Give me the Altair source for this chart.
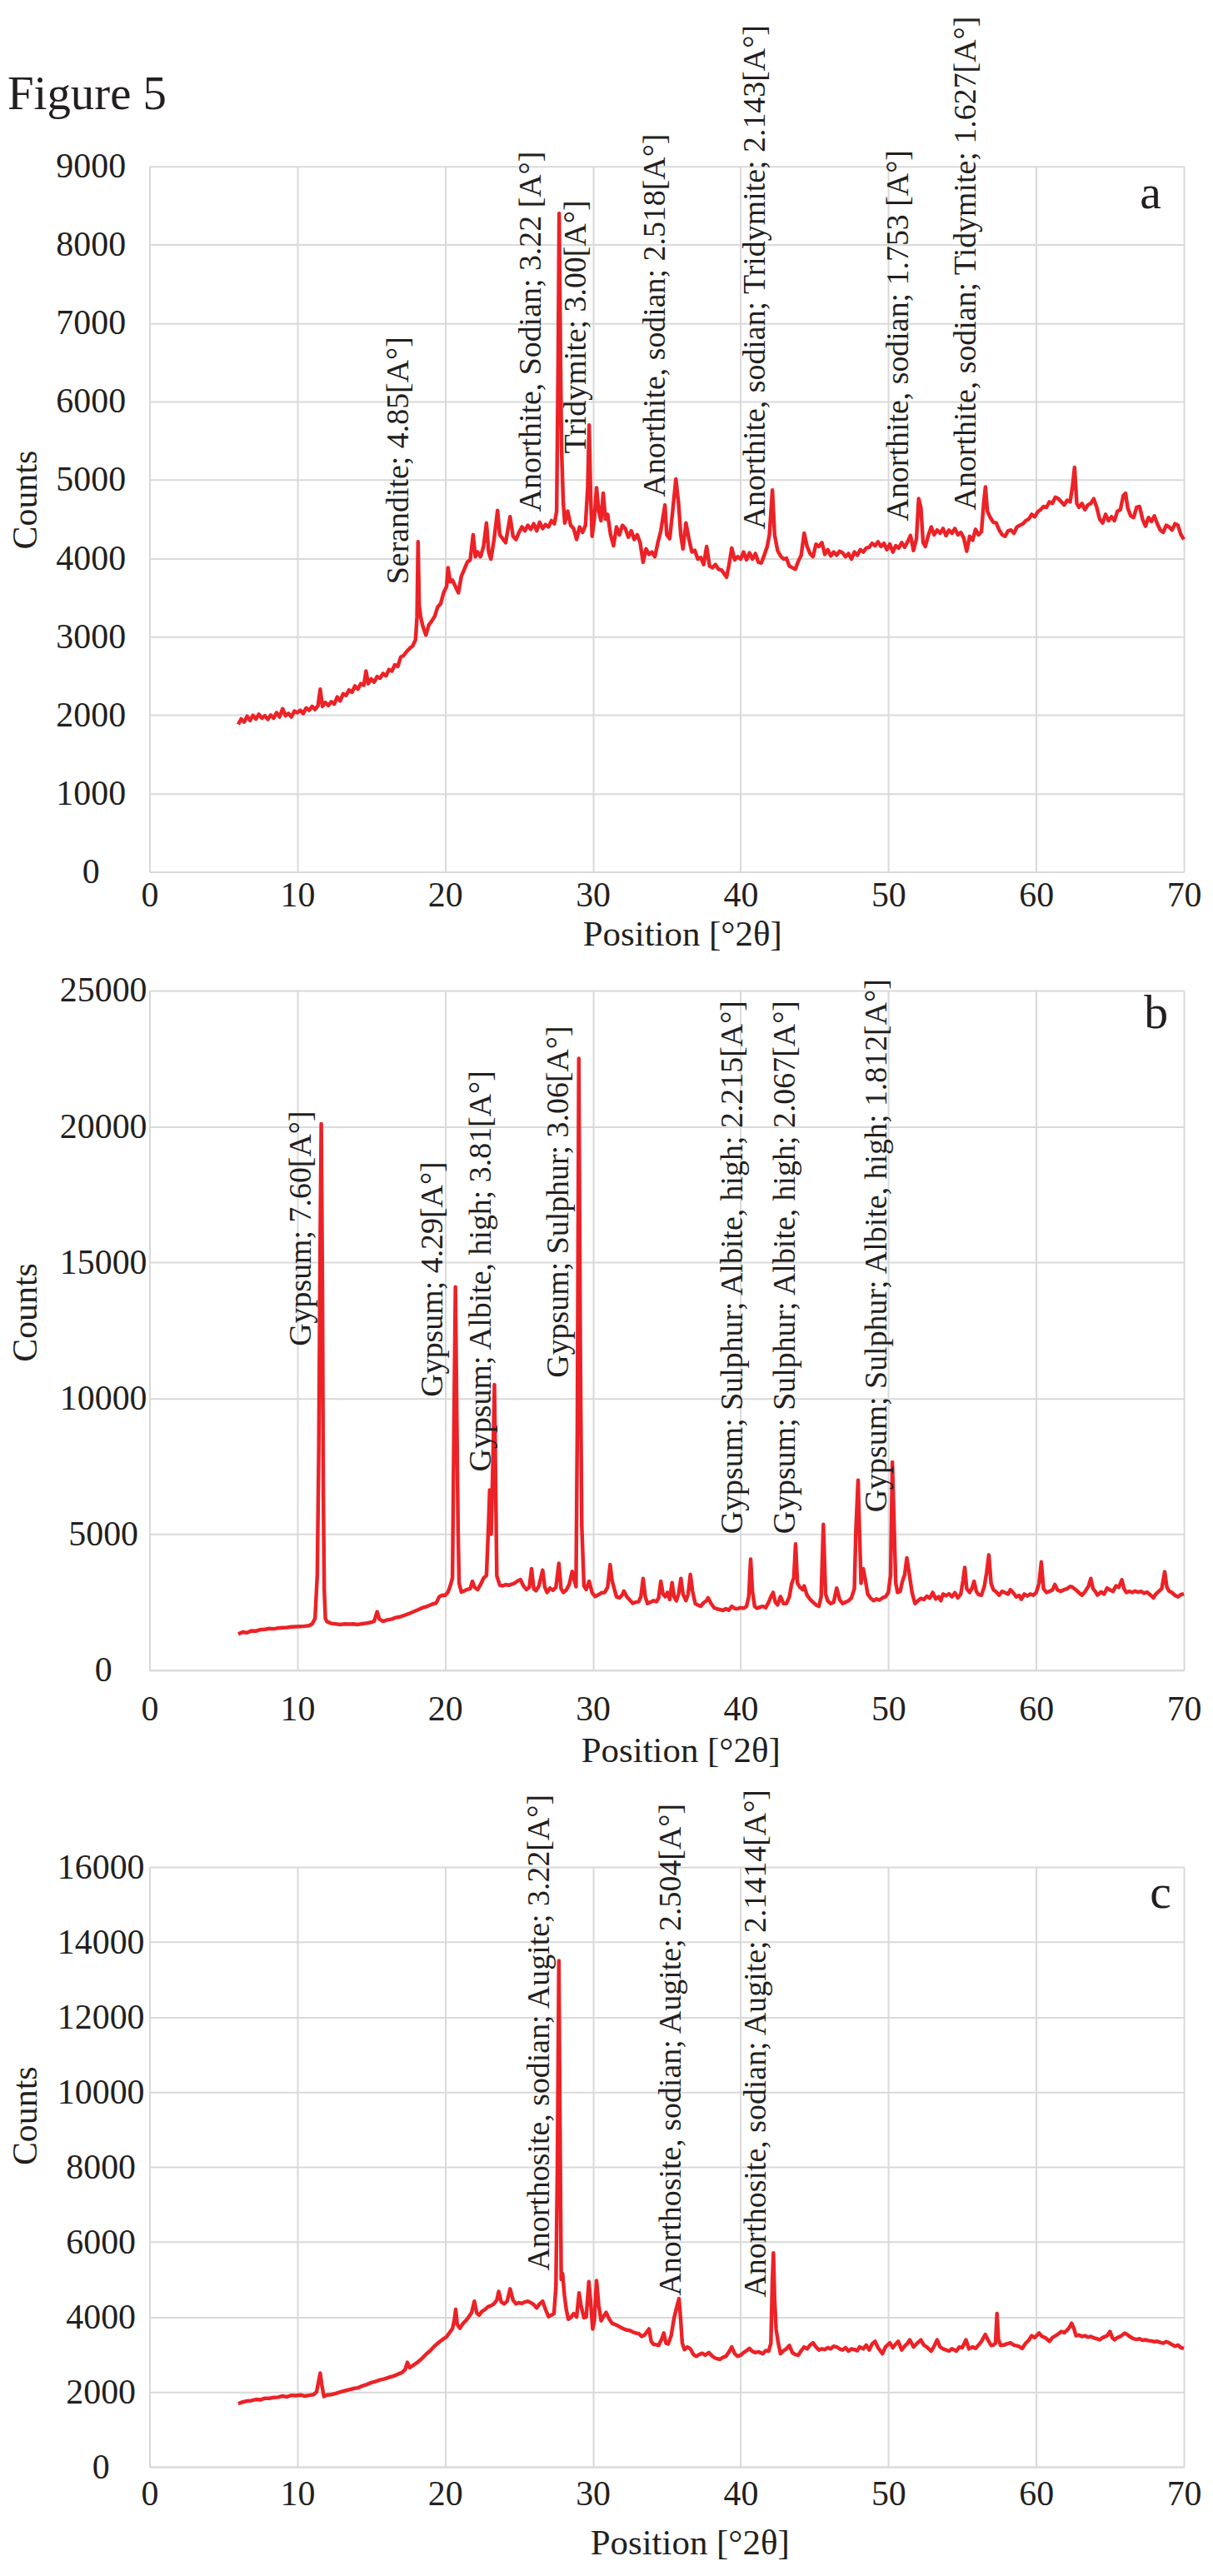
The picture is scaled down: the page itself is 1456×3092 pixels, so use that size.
import altair as alt
import pandas as pd

FONT = "Liberation Serif"
INK = "#231f20"
RED = "#ec2227"
GRID = "#d9d9d9"

W = 1245
H_A, H_B, H_C = 849, 818, 722
GAP_AB, GAP_BC = 143, 237

x_ticks = [0, 10, 20, 30, 40, 50, 60, 70]
a_yticks = [0, 1000, 2000, 3000, 4000, 5000, 6000, 7000, 8000, 9000]
b_yticks = [0, 5000, 10000, 15000, 20000, 25000]
c_yticks = [0, 2000, 4000, 6000, 8000, 10000, 12000, 14000, 16000]

# ---- panel a trace (position, counts)
a_trace = [
 (6.0,1880),(6.2,1950),(6.4,1910),(6.6,1985),(6.8,1930),(7.0,1995),(7.2,1950),(7.4,2010),(7.6,1960),(7.8,1990),
 (8.0,1945),(8.2,2000),(8.4,1960),(8.6,2030),(8.8,1975),(9.0,2080),(9.2,1990),(9.4,2020),(9.6,1975),(9.8,2050),
 (10.0,2030),(10.2,2060),(10.4,2020),(10.6,2090),(10.8,2060),(11.0,2110),(11.2,2070),(11.4,2120),(11.55,2330),(11.7,2110),
 (11.9,2160),(12.1,2120),(12.3,2170),(12.5,2140),(12.7,2230),(12.9,2180),(13.1,2270),(13.3,2250),(13.5,2320),(13.7,2290),
 (13.9,2370),(14.1,2330),(14.3,2400),(14.5,2380),(14.65,2560),(14.8,2400),(15.0,2460),(15.2,2420),(15.4,2490),(15.6,2470),
 (15.8,2530),(16.0,2500),(16.2,2580),(16.4,2560),(16.6,2640),(16.8,2620),(17.0,2740),(17.2,2760),(17.4,2810),(17.6,2850),
 (17.8,2880),(18.0,2960),(18.1,3250),(18.17,4210),(18.25,3400),(18.35,3250),(18.5,3130),(18.7,3020),(18.9,3150),(19.1,3200),
 (19.3,3260),(19.5,3380),(19.7,3420),(19.9,3560),(20.1,3640),(20.2,3880),(20.35,3700),(20.5,3720),(20.7,3640),(20.9,3560),
 (21.1,3770),(21.3,3860),(21.5,3950),(21.7,3980),(21.9,4300),(22.05,4020),(22.2,4080),(22.4,4020),(22.6,4150),(22.8,4450),
 (22.95,4080),(23.1,3990),(23.3,4220),(23.55,4610),(23.7,4300),(23.9,4250),(24.1,4200),(24.4,4530),(24.6,4280),(24.8,4240),
 (25.0,4330),(25.2,4400),(25.4,4350),(25.6,4420),(25.8,4370),(26.0,4440),(26.2,4350),(26.4,4460),(26.6,4380),(26.8,4430),
 (27.0,4400),(27.2,4480),(27.4,4440),(27.55,4600),(27.65,6500),(27.72,8400),(27.8,6800),(27.88,5400),(28.0,4700),(28.1,4450),
 (28.3,4600),(28.5,4420),(28.7,4380),(28.9,4240),(29.1,4400),(29.3,4330),(29.5,4420),(29.65,4900),(29.75,5700),(29.85,4800),
 (29.95,4280),(30.1,4500),(30.25,4900),(30.4,4600),(30.55,4480),(30.7,4830),(30.85,4500),(31.0,4560),(31.2,4300),(31.4,4160),
 (31.6,4400),(31.8,4300),(32.0,4420),(32.2,4380),(32.4,4270),(32.6,4350),(32.8,4240),(33.0,4300),(33.2,4200),(33.4,3950),
 (33.6,4120),(33.8,4050),(34.0,4080),(34.2,4020),(34.4,4200),(34.6,4350),(34.88,4680),(35.0,4300),(35.2,4250),(35.4,4600),
 (35.62,5010),(35.8,4700),(35.95,4300),(36.1,4120),(36.3,4450),(36.5,4250),(36.7,4080),(36.9,4100),(37.1,3990),(37.3,4010),
 (37.5,3920),(37.7,4150),(37.9,3900),(38.1,3880),(38.3,3920),(38.5,3860),(38.7,3850),(38.9,3800),(39.05,3760),(39.2,3900),
 (39.4,4130),(39.6,3980),(39.8,4020),(40.0,3990),(40.2,4080),(40.4,3980),(40.6,4070),(40.8,3990),(41.0,4060),(41.2,3950),
 (41.4,3940),(41.6,4040),(41.8,4150),(41.95,4300),(42.15,4870),(42.3,4300),(42.5,4100),(42.7,4030),(42.9,3990),(43.1,4000),
 (43.3,3900),(43.5,3880),(43.7,3860),(43.9,3960),(44.1,4040),(44.3,4320),(44.5,4150),(44.7,4060),(44.9,4020),(45.1,4180),
 (45.3,4150),(45.5,4200),(45.7,4050),(45.9,4110),(46.1,4030),(46.3,4080),(46.5,4040),(46.7,4090),(46.9,4070),(47.1,4020),
 (47.3,4060),(47.5,3990),(47.7,4080),(47.9,4040),(48.1,4110),(48.3,4080),(48.5,4130),(48.7,4140),(48.9,4190),(49.1,4160),
 (49.3,4210),(49.5,4150),(49.7,4190),(49.9,4110),(50.1,4180),(50.3,4080),(50.5,4160),(50.7,4130),(50.9,4200),(51.1,4140),
 (51.3,4210),(51.5,4290),(51.7,4100),(51.9,4250),(52.05,4760),(52.2,4650),(52.35,4200),(52.5,4150),(52.7,4290),(52.9,4400),
 (53.1,4300),(53.3,4360),(53.5,4320),(53.7,4380),(53.9,4290),(54.1,4360),(54.3,4320),(54.5,4380),(54.7,4300),(54.9,4330),
 (55.1,4260),(55.3,4090),(55.5,4280),(55.7,4230),(55.9,4370),(56.1,4300),(56.3,4340),(56.45,4700),(56.57,4910),(56.7,4600),
 (56.9,4520),(57.1,4460),(57.3,4450),(57.5,4360),(57.7,4300),(57.9,4280),(58.1,4350),(58.3,4360),(58.5,4320),(58.7,4400),
 (58.9,4420),(59.1,4440),(59.3,4480),(59.5,4500),(59.7,4560),(59.9,4530),(60.1,4590),(60.3,4620),(60.5,4660),(60.7,4650),
 (60.9,4720),(61.1,4700),(61.3,4780),(61.5,4760),(61.7,4720),(61.9,4680),(62.1,4740),(62.3,4720),(62.45,4900),(62.6,5160),
 (62.75,4700),(62.9,4650),(63.1,4700),(63.3,4620),(63.5,4680),(63.7,4700),(63.9,4760),(64.1,4650),(64.3,4500),(64.5,4450),
 (64.7,4560),(64.9,4480),(65.1,4530),(65.3,4480),(65.5,4600),(65.7,4620),(65.9,4800),(66.05,4830),(66.2,4640),(66.4,4540),
 (66.6,4520),(66.8,4650),(67.0,4660),(67.2,4500),(67.4,4410),(67.6,4520),(67.8,4470),(68.0,4540),(68.2,4440),(68.4,4360),
 (68.6,4330),(68.8,4420),(69.0,4400),(69.2,4360),(69.4,4440),(69.6,4420),(69.8,4300),(70.0,4240),
]

# ---- panel b trace
b_trace = [
 (6.0,1330),(6.3,1400),(6.6,1380),(6.9,1450),(7.2,1440),(7.5,1490),(7.8,1500),(8.1,1530),(8.4,1520),(8.7,1550),
 (9.0,1560),(9.3,1570),(9.6,1590),(9.9,1600),(10.2,1610),(10.5,1620),(10.8,1640),(11.0,1700),(11.2,1900),(11.35,3500),
 (11.45,8000),(11.55,16000),(11.62,20100),(11.7,14000),(11.76,6500),(11.82,3000),(11.9,1900),(12.0,1790),(12.3,1720),(12.6,1700),
 (12.9,1680),(13.2,1700),(13.5,1690),(13.8,1700),(14.1,1680),(14.4,1710),(14.7,1730),(15.0,1760),(15.2,1800),(15.4,2150),
 (15.55,1880),(15.8,1800),(16.1,1850),(16.4,1880),(16.7,1940),(17.0,1970),(17.3,2030),(17.6,2090),(17.9,2160),(18.2,2230),
 (18.5,2300),(18.8,2350),(19.1,2420),(19.4,2470),(19.6,2700),(19.8,2760),(20.0,2750),(20.2,2870),(20.35,3100),(20.5,3400),
 (20.6,9000),(20.7,14100),(20.8,9000),(20.88,5100),(20.95,3200),(21.1,2870),(21.3,2920),(21.5,2970),(21.7,3000),(21.85,3270),
 (22.0,3050),(22.2,2960),(22.4,3150),(22.6,3380),(22.8,3480),(22.95,5500),(23.02,6630),(23.12,5000),(23.25,8000),(23.34,10500),
 (23.42,7000),(23.5,3470),(23.7,3130),(23.9,3100),(24.1,3150),(24.3,3120),(24.5,3160),(24.7,3200),(24.9,3280),(25.1,3330),
 (25.3,3100),(25.5,2970),(25.7,3050),(25.85,3730),(26.0,3000),(26.15,2920),(26.35,3100),(26.6,3680),(26.75,3050),(26.9,2860),
 (27.1,3020),(27.3,2940),(27.5,3050),(27.7,3930),(27.85,3000),(28.0,2860),(28.2,2950),(28.4,3150),(28.6,3630),(28.75,3300),
 (28.86,3070),(28.95,9000),(29.05,22500),(29.15,12000),(29.25,5300),(29.4,3100),(29.55,2970),(29.75,3270),(29.95,2850),(30.15,2710),
 (30.4,2780),(30.6,2850),(30.8,2860),(31.0,3050),(31.17,3880),(31.3,3300),(31.45,3000),(31.6,2700),(31.8,2660),(32.0,2780),
 (32.1,2910),(32.3,2700),(32.5,2580),(32.7,2460),(32.9,2500),(33.1,2520),(33.25,2700),(33.4,3370),(33.55,2700),(33.7,2450),
 (33.9,2500),(34.1,2560),(34.3,2520),(34.45,2650),(34.6,3270),(34.75,2800),(34.9,2700),(35.05,2860),(35.2,2600),(35.36,3220),
 (35.5,2700),(35.65,2550),(35.8,2800),(35.96,3370),(36.1,2800),(36.3,2560),(36.45,2800),(36.6,3520),(36.75,2900),(36.93,2450),
 (37.1,2400),(37.3,2350),(37.5,2480),(37.7,2560),(37.8,2660),(38.0,2450),(38.2,2300),(38.4,2250),(38.6,2230),(38.8,2200),
 (39.0,2260),(39.2,2210),(39.4,2350),(39.6,2270),(39.8,2260),(40.0,2300),(40.2,2280),(40.4,2350),(40.55,2700),(40.68,4080),
 (40.8,2900),(40.95,2350),(41.1,2280),(41.3,2320),(41.5,2350),(41.7,2300),(41.9,2500),(42.05,2700),(42.2,2860),(42.35,2500),
 (42.5,2400),(42.7,2710),(42.9,2450),(43.1,2450),(43.3,2700),(43.45,3170),(43.6,3400),(43.72,4640),(43.85,3200),(44.0,3060),
 (44.2,2960),(44.3,3100),(44.5,2750),(44.7,2610),(44.9,2500),(45.1,2400),(45.3,2350),(45.45,2700),(45.6,5360),(45.75,2800),
 (45.9,2550),(46.1,2450),(46.3,2500),(46.5,3020),(46.7,2600),(46.9,2450),(47.1,2500),(47.3,2550),(47.5,2660),(47.7,3000),
 (47.8,5100),(47.95,6990),(48.05,5000),(48.15,3200),(48.3,3730),(48.45,3300),(48.6,2800),(48.8,2650),(49.0,2560),(49.2,2620),
 (49.4,2580),(49.6,2660),(49.8,2700),(50.0,2860),(50.15,3500),(50.27,7650),(50.38,5500),(50.5,3200),(50.62,2860),(50.8,2900),
 (50.95,3270),(51.1,3500),(51.25,4130),(51.4,3600),(51.6,2860),(51.8,2450),(52.0,2550),(52.2,2640),(52.4,2600),(52.6,2720),
 (52.8,2650),(53.0,2860),(53.2,2620),(53.4,2700),(53.55,2560),(53.7,2800),(53.9,2740),(54.1,2810),(54.3,2700),(54.5,2850),
 (54.7,2660),(54.9,2800),(55.05,3300),(55.17,3780),(55.3,3000),(55.5,2860),(55.65,3000),(55.8,3270),(55.95,2900),(56.1,2780),
 (56.3,2760),(56.5,3100),(56.65,3600),(56.8,4240),(56.95,3200),(57.1,2960),(57.3,2880),(57.5,2760),(57.7,2900),(57.9,2850),
 (58.1,2800),(58.26,2960),(58.45,2850),(58.65,2700),(58.85,2750),(59.0,2610),(59.2,2800),(59.4,2730),(59.6,2800),(59.8,2760),
 (60.0,2850),(60.2,3200),(60.35,3980),(60.5,3000),(60.7,2860),(60.9,2900),(61.1,2950),(61.27,3150),(61.45,2950),(61.65,2900),
 (61.9,2960),(62.1,3000),(62.3,3080),(62.45,3060),(62.7,2950),(62.9,2850),(63.1,2760),(63.3,2880),(63.55,3100),(63.7,3370),
 (63.85,3000),(64.0,2900),(64.15,2760),(64.4,2880),(64.6,2800),(64.8,3020),(65.0,2950),(65.2,2900),(65.4,3100),(65.6,3050),
 (65.8,3320),(65.95,3000),(66.1,2860),(66.3,2900),(66.5,2860),(66.7,2910),(66.9,2870),(67.1,2900),(67.3,2830),(67.5,2870),
 (67.7,2780),(67.94,2660),(68.1,2800),(68.3,2900),(68.5,3000),(68.7,3620),(68.85,3050),(69.0,2910),(69.2,2850),(69.4,2750),
 (69.6,2700),(69.8,2780),(70.0,2810),
]

# ---- panel c trace
c_trace = [
 (6.0,1690),(6.3,1730),(6.6,1760),(6.9,1770),(7.2,1800),(7.5,1790),(7.8,1830),(8.1,1830),(8.4,1850),(8.7,1860),
 (9.0,1890),(9.3,1870),(9.6,1910),(9.9,1900),(10.2,1920),(10.5,1890),(10.8,1910),(11.1,1930),(11.3,2000),(11.45,2300),
 (11.55,2500),(11.65,2200),(11.8,1880),(12.0,1920),(12.3,1930),(12.6,1960),(12.9,2000),(13.2,2030),(13.5,2060),(13.8,2090),
 (14.1,2110),(14.4,2160),(14.7,2200),(15.0,2250),(15.3,2280),(15.6,2320),(15.9,2350),(16.2,2390),(16.5,2420),(16.8,2470),
 (17.1,2520),(17.3,2600),(17.45,2790),(17.6,2650),(17.8,2700),(18.1,2780),(18.4,2880),(18.7,3000),(19.0,3100),(19.3,3230),
 (19.6,3330),(19.9,3420),(20.1,3470),(20.3,3580),(20.5,3690),(20.62,3900),(20.72,4200),(20.82,3800),(21.0,3700),(21.2,3820),
 (21.4,3900),(21.6,4000),(21.8,4120),(21.98,4420),(22.15,4100),(22.3,4050),(22.5,4150),(22.7,4200),(22.9,4270),(23.1,4300),
 (23.3,4350),(23.5,4450),(23.63,4680),(23.8,4400),(24.0,4350),(24.2,4420),(24.4,4750),(24.6,4450),(24.8,4350),(25.0,4380),
 (25.2,4360),(25.4,4400),(25.6,4420),(25.8,4380),(26.0,4330),(26.2,4240),(26.4,4350),(26.6,4420),(26.8,4200),(27.0,4010),
 (27.2,4050),(27.37,4090),(27.5,4800),(27.6,8000),(27.7,13500),(27.78,9000),(27.86,5000),(27.95,5160),(28.08,4570),(28.2,4200),
 (28.34,3940),(28.5,3980),(28.7,4090),(28.9,4000),(29.07,4640),(29.2,4300),(29.4,3980),(29.55,4000),(29.73,4940),(29.85,4400),
 (29.99,3680),(30.1,3900),(30.25,4970),(30.4,4300),(30.56,3900),(30.7,4000),(30.9,4120),(31.1,3950),(31.3,3830),(31.5,3800),
 (31.7,3760),(31.9,3720),(32.1,3680),(32.3,3650),(32.5,3640),(32.7,3600),(32.9,3570),(33.1,3560),(33.3,3480),(33.5,3520),
 (33.8,3680),(33.95,3350),(34.1,3270),(34.3,3260),(34.45,3240),(34.65,3400),(34.8,3570),(34.95,3300),(35.1,3280),(35.3,3500),
 (35.5,3980),(35.7,4300),(35.83,4490),(35.95,3900),(36.05,3300),(36.2,3130),(36.4,3200),(36.6,3150),(36.8,3000),(37.0,2950),
 (37.2,3000),(37.4,3030),(37.6,2980),(37.85,3050),(38.1,2950),(38.3,2900),(38.5,2880),(38.6,2870),(38.8,2920),(39.0,2950),
 (39.2,3060),(39.4,3200),(39.6,3020),(39.8,2950),(40.0,2980),(40.2,3050),(40.4,3100),(40.6,3160),(40.8,3080),(41.0,3050),
 (41.2,3070),(41.5,3020),(41.7,3100),(41.9,3090),(42.05,3300),(42.15,5000),(42.22,5710),(42.3,4500),(42.4,3680),(42.55,3300),
 (42.7,3020),(42.9,3100),(43.1,3150),(43.3,3240),(43.5,3050),(43.7,3000),(43.9,2980),(44.1,3100),(44.3,3200),(44.5,3150),
 (44.7,3250),(44.9,3310),(45.1,3200),(45.3,3120),(45.5,3150),(45.7,3130),(45.9,3180),(46.1,3150),(46.3,3220),(46.5,3200),
 (46.7,3150),(46.9,3120),(47.1,3180),(47.3,3090),(47.5,3150),(47.7,3130),(47.9,3100),(48.05,3200),(48.3,3150),(48.5,3250),
 (48.7,3120),(48.9,3280),(49.1,3350),(49.3,3180),(49.6,3020),(49.8,3200),(50.1,3310),(50.3,3180),(50.5,3280),(50.67,3350),
 (50.9,3120),(51.1,3220),(51.3,3300),(51.45,3390),(51.7,3200),(51.9,3280),(52.2,3390),(52.4,3250),(52.6,3200),(52.9,3090),
 (53.1,3220),(53.3,3390),(53.5,3200),(53.7,3150),(53.9,3120),(54.1,3090),(54.3,3150),(54.6,3090),(54.8,3200),(55.0,3180),
 (55.25,3390),(55.45,3150),(55.7,3200),(55.9,3160),(56.1,3250),(56.3,3350),(56.56,3530),(56.75,3380),(56.95,3240),(57.1,3250),
 (57.25,3300),(57.35,4090),(57.45,3400),(57.6,3240),(57.8,3250),(58.0,3280),(58.26,3310),(58.5,3250),(58.8,3220),(59.05,3160),
 (59.3,3300),(59.5,3380),(59.7,3500),(59.9,3450),(60.2,3570),(60.4,3480),(60.6,3450),(60.9,3350),(61.1,3450),(61.4,3520),
 (61.7,3610),(61.9,3580),(62.1,3650),(62.25,3720),(62.4,3830),(62.55,3700),(62.7,3500),(62.9,3520),(63.1,3480),(63.3,3500),
 (63.5,3460),(63.7,3480),(63.9,3440),(64.1,3420),(64.3,3390),(64.5,3450),(64.8,3500),(65.0,3610),(65.15,3450),(65.3,3390),
 (65.5,3450),(65.7,3480),(66.0,3570),(66.2,3520),(66.4,3460),(66.6,3420),(66.8,3400),(67.0,3420),(67.2,3380),(67.4,3390),
 (67.6,3370),(67.8,3360),(68.0,3340),(68.2,3350),(68.4,3320),(68.6,3300),(68.8,3340),(69.0,3310),(69.2,3260),(69.4,3220),
 (69.6,3250),(69.8,3180),(70.0,3160),
]

# ---- peak annotations (text, anchor position, anchor counts)
a_labels = ["Serandite; 4.85[A°]", "Anorthite, Sodian; 3.22 [A°]", "Tridymite; 3.00[A°]",
            "Anorthite, sodian; 2.518[A°]", "Anorthite, sodian; Tridymite; 2.143[A°]",
            "Anorthite, sodian; 1.753 [A°]", "Anorthite, sodian; Tidymite; 1.627[A°]"]
a_label_pos = [17.52, 26.45, 29.53, 34.87, 41.66, 51.32, 55.92]
a_label_cnt = [3669, 4592, 5334, 4783, 4369, 4475, 4613]

b_labels = ["Gypsum; 7.60[A°]", "Gypsum; 4.29[A°]", "Gypsum; Albite, high; 3.81[A°]",
            "Gypsum; Sulphur; 3.06[A°]", "Gypsum; Sulphur; Albite, high; 2.215[A°]",
            "Gypsum; Sulphur; Albite, high; 2.067[A°]", "Gypsum; Sulphur; Albite, high; 1.812[A°]"]
b_label_pos = [10.9, 19.84, 23.1, 28.33, 40.13, 43.68, 49.86]
b_label_cnt = [11919, 10055, 7304, 10758, 5012, 5012, 5807]

c_labels = ["Anorthosite, sodian; Augite; 3.22[A°]", "Anorthosite, sodian; Augite; 2.504[A°]",
            "Anorthosite, sodian; Augite; 2.1414[A°]"]
c_label_pos = [27.04, 35.92, 41.71]
c_label_cnt = [5233, 4568, 4523]

figure_title = "Figure 5"
panel_letters = ["a", "b", "c"]


def panel(trace, yticks, ymax, labels, lpos, lcnt, letter, letter_xy, height,
          ylab_pad, ytitle_y, xlab_pad, xtitle_x, xtitle_y, extra_text=None):
    df = pd.DataFrame(trace, columns=["pos", "cnt"])
    x = alt.X("pos:Q",
              scale=alt.Scale(domain=[0, 70], nice=False, zero=False),
              axis=alt.Axis(values=x_ticks, title="Position [°2θ]", format="d",
                            grid=True, gridColor=GRID, gridWidth=2,
                            domain=True, domainColor=GRID, domainWidth=2, ticks=False,
                            labelFont=FONT, labelFontSize=42, labelColor=INK,
                            labelPadding=xlab_pad, labelBaseline="alphabetic",
                            labelFlush=False, labelOverlap=False,
                            titleFont=FONT, titleFontSize=43, titleColor=INK,
                            titleFontWeight="normal", titleX=xtitle_x, titleY=xtitle_y,
                            titleAlign="center", titleBaseline="alphabetic"))
    y = alt.Y("cnt:Q",
              scale=alt.Scale(domain=[0, ymax], nice=False, zero=True),
              axis=alt.Axis(values=yticks, title="Counts", format="d",
                            grid=True, gridColor=GRID, gridWidth=2,
                            domain=True, domainColor=GRID, domainWidth=2, ticks=False,
                            labelFont=FONT, labelFontSize=42, labelColor=INK,
                            labelPadding=ylab_pad, labelAlign="center",
                            labelFlush=False, labelOverlap=False,
                            titleFont=FONT, titleFontSize=42, titleColor=INK,
                            titleFontWeight="normal", titleAngle=270,
                            titleX=-136, titleY=ytitle_y,
                            titleAlign="center", titleBaseline="alphabetic"))
    line = alt.Chart(df).mark_line(color=RED, strokeWidth=4.5, strokeJoin="round").encode(x=x, y=y)
    ann_df = pd.DataFrame({"pos": lpos, "cnt": lcnt, "txt": labels})
    ann = alt.Chart(ann_df).mark_text(angle=270, align="left", baseline="alphabetic",
                                      font=FONT, fontSize=38, color=INK).encode(
        x=x, y=y, text="txt:N")
    let_df = pd.DataFrame({"t": [letter]})
    let = alt.Chart(let_df).mark_text(align="left", baseline="alphabetic", font=FONT,
                                      fontSize=58, color=INK).encode(
        x=alt.value(letter_xy[0]), y=alt.value(letter_xy[1]), text="t:N")
    layers = [line, ann, let]
    if extra_text is not None:
        t_df = pd.DataFrame({"t": [extra_text]})
        layers.append(alt.Chart(t_df).mark_text(align="left", baseline="alphabetic", font=FONT,
                                                fontSize=57, color=INK).encode(
            x=alt.value(-171), y=alt.value(-69), text="t:N"))
    return alt.layer(*layers).properties(width=W, height=height)


def spacer(h):
    sdf = pd.DataFrame({"s": [0]})
    return alt.Chart(sdf).mark_point(opacity=0).encode(
        x=alt.X("s:Q", axis=None), y=alt.Y("s:Q", axis=None)).properties(width=W, height=h)


pa = panel(a_trace, a_yticks, 9000, a_labels, a_label_pos, a_label_cnt, panel_letters[0],
           (1192, 50), H_A, 71, 401, 41, 641, 88, extra_text=figure_title)
pb = panel(b_trace, b_yticks, 25000, b_labels, b_label_pos, b_label_cnt, panel_letters[1],
           (1197, 45), H_B, 56, 387, 60, 639, 110)
pc = panel(c_trace, c_yticks, 16000, c_labels, c_label_pos, c_label_cnt, panel_letters[2],
           (1204, 49), H_C, 59, 299, 46, 650, 105)

chart = alt.vconcat(pa, spacer(GAP_AB), pb, spacer(GAP_BC), pc).properties(
    spacing=0, bounds="flush",
    padding={"left": 0, "top": 5, "right": 5, "bottom": 5},
    background="white",
).configure_view(stroke="transparent")

chart.save("out.html", embed_options={"renderer": "svg", "actions": False})
